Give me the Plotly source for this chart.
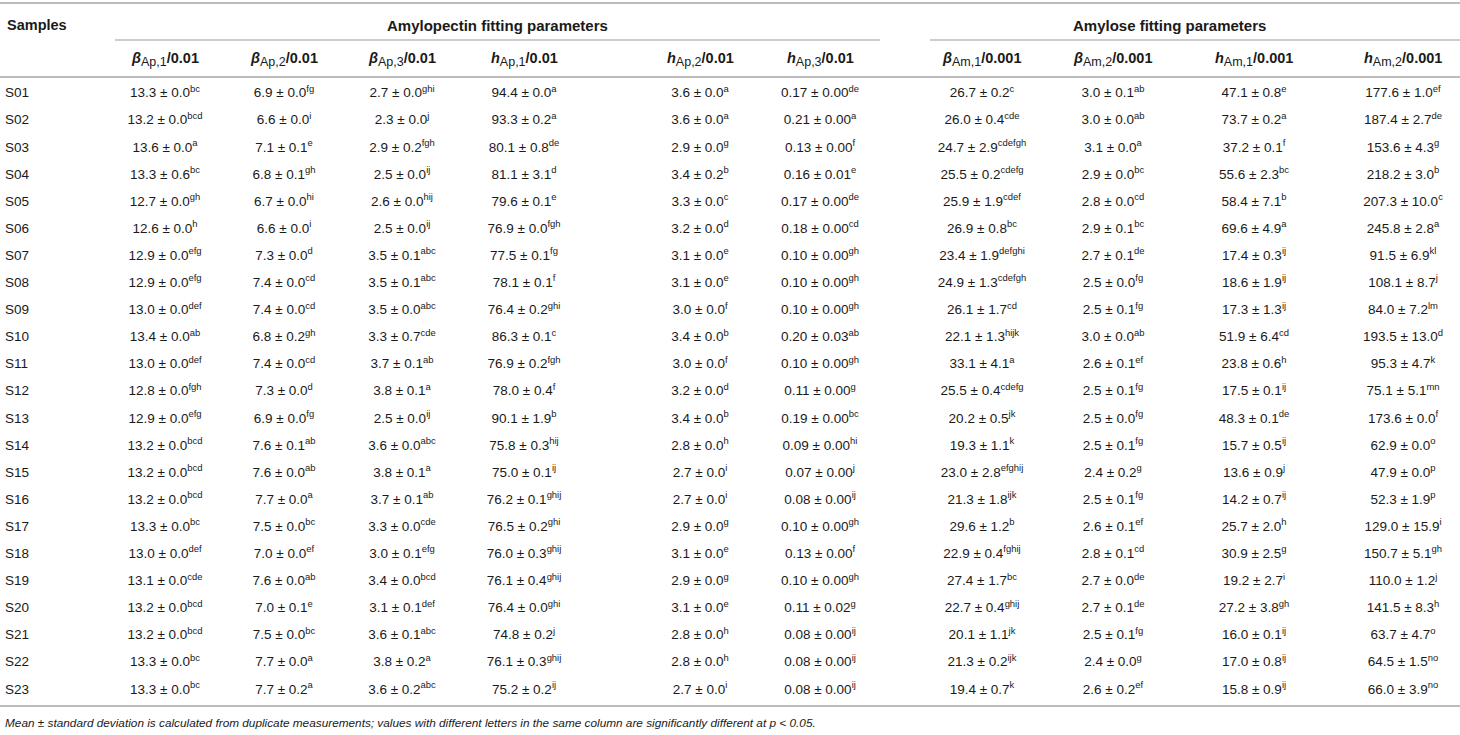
import plotly.graph_objects as go

# ---------------- data ----------------
samples = ["S%02d" % i for i in range(1, 24)]

group_headers = ["Amylopectin fitting parameters", "Amylose fitting parameters"]
header_symbols = ["β", "β", "β", "h", "h", "h", "β", "β", "h", "h"]
header_subs = ["Ap,1", "Ap,2", "Ap,3", "Ap,1", "Ap,2", "Ap,3", "Am,1", "Am,2", "Am,1", "Am,2"]
header_units = ["/0.01", "/0.01", "/0.01", "/0.01", "/0.01", "/0.01", "/0.001", "/0.001", "/0.001", "/0.001"]

bAp1_mean = [13.3, 13.2, 13.6, 13.3, 12.7, 12.6, 12.9, 12.9, 13.0, 13.4, 13.0, 12.8, 12.9, 13.2, 13.2, 13.2, 13.3, 13.0, 13.1, 13.2, 13.2, 13.3, 13.3]
bAp1_sd = [0.0, 0.0, 0.0, 0.6, 0.0, 0.0, 0.0, 0.0, 0.0, 0.0, 0.0, 0.0, 0.0, 0.0, 0.0, 0.0, 0.0, 0.0, 0.0, 0.0, 0.0, 0.0, 0.0]
bAp1_let = ["bc", "bcd", "a", "bc", "gh", "h", "efg", "efg", "def", "ab", "def", "fgh", "efg", "bcd", "bcd", "bcd", "bc", "def", "cde", "bcd", "bcd", "bc", "bc"]

bAp2_mean = [6.9, 6.6, 7.1, 6.8, 6.7, 6.6, 7.3, 7.4, 7.4, 6.8, 7.4, 7.3, 6.9, 7.6, 7.6, 7.7, 7.5, 7.0, 7.6, 7.0, 7.5, 7.7, 7.7]
bAp2_sd = [0.0, 0.0, 0.1, 0.1, 0.0, 0.0, 0.0, 0.0, 0.0, 0.2, 0.0, 0.0, 0.0, 0.1, 0.0, 0.0, 0.0, 0.0, 0.0, 0.1, 0.0, 0.0, 0.2]
bAp2_let = ["fg", "i", "e", "gh", "hi", "i", "d", "cd", "cd", "gh", "cd", "d", "fg", "ab", "ab", "a", "bc", "ef", "ab", "e", "bc", "a", "a"]

bAp3_mean = [2.7, 2.3, 2.9, 2.5, 2.6, 2.5, 3.5, 3.5, 3.5, 3.3, 3.7, 3.8, 2.5, 3.6, 3.8, 3.7, 3.3, 3.0, 3.4, 3.1, 3.6, 3.8, 3.6]
bAp3_sd = [0.0, 0.0, 0.2, 0.0, 0.0, 0.0, 0.1, 0.1, 0.0, 0.7, 0.1, 0.1, 0.0, 0.0, 0.1, 0.1, 0.0, 0.1, 0.0, 0.1, 0.1, 0.2, 0.2]
bAp3_let = ["ghi", "j", "fgh", "ij", "hij", "ij", "abc", "abc", "abc", "cde", "ab", "a", "ij", "abc", "a", "ab", "cde", "efg", "bcd", "def", "abc", "a", "abc"]

hAp1_mean = [94.4, 93.3, 80.1, 81.1, 79.6, 76.9, 77.5, 78.1, 76.4, 86.3, 76.9, 78.0, 90.1, 75.8, 75.0, 76.2, 76.5, 76.0, 76.1, 76.4, 74.8, 76.1, 75.2]
hAp1_sd = [0.0, 0.2, 0.8, 3.1, 0.1, 0.0, 0.1, 0.1, 0.2, 0.1, 0.2, 0.4, 1.9, 0.3, 0.1, 0.1, 0.2, 0.3, 0.4, 0.0, 0.2, 0.3, 0.2]
hAp1_let = ["a", "a", "de", "d", "e", "fgh", "fg", "f", "ghi", "c", "fgh", "f", "b", "hij", "ij", "ghij", "ghi", "ghij", "ghij", "ghi", "j", "ghij", "ij"]

hAp2_mean = [3.6, 3.6, 2.9, 3.4, 3.3, 3.2, 3.1, 3.1, 3.0, 3.4, 3.0, 3.2, 3.4, 2.8, 2.7, 2.7, 2.9, 3.1, 2.9, 3.1, 2.8, 2.8, 2.7]
hAp2_sd = [0.0, 0.0, 0.0, 0.2, 0.0, 0.0, 0.0, 0.0, 0.0, 0.0, 0.0, 0.0, 0.0, 0.0, 0.0, 0.0, 0.0, 0.0, 0.0, 0.0, 0.0, 0.0, 0.0]
hAp2_let = ["a", "a", "g", "b", "c", "d", "e", "e", "f", "b", "f", "d", "b", "h", "i", "i", "g", "e", "g", "e", "h", "h", "i"]

hAp3_mean = [0.17, 0.21, 0.13, 0.16, 0.17, 0.18, 0.10, 0.10, 0.10, 0.20, 0.10, 0.11, 0.19, 0.09, 0.07, 0.08, 0.10, 0.13, 0.10, 0.11, 0.08, 0.08, 0.08]
hAp3_sd = [0.00, 0.00, 0.00, 0.01, 0.00, 0.00, 0.00, 0.00, 0.00, 0.03, 0.00, 0.00, 0.00, 0.00, 0.00, 0.00, 0.00, 0.00, 0.00, 0.02, 0.00, 0.00, 0.00]
hAp3_let = ["de", "a", "f", "e", "de", "cd", "gh", "gh", "gh", "ab", "gh", "g", "bc", "hi", "j", "ij", "gh", "f", "gh", "g", "ij", "ij", "ij"]

bAm1_mean = [26.7, 26.0, 24.7, 25.5, 25.9, 26.9, 23.4, 24.9, 26.1, 22.1, 33.1, 25.5, 20.2, 19.3, 23.0, 21.3, 29.6, 22.9, 27.4, 22.7, 20.1, 21.3, 19.4]
bAm1_sd = [0.2, 0.4, 2.9, 0.2, 1.9, 0.8, 1.9, 1.3, 1.7, 1.3, 4.1, 0.4, 0.5, 1.1, 2.8, 1.8, 1.2, 0.4, 1.7, 0.4, 1.1, 0.2, 0.7]
bAm1_let = ["c", "cde", "cdefgh", "cdefg", "cdef", "bc", "defghi", "cdefgh", "cd", "hijk", "a", "cdefg", "jk", "k", "efghij", "ijk", "b", "fghij", "bc", "ghij", "jk", "ijk", "k"]

bAm2_mean = [3.0, 3.0, 3.1, 2.9, 2.8, 2.9, 2.7, 2.5, 2.5, 3.0, 2.6, 2.5, 2.5, 2.5, 2.4, 2.5, 2.6, 2.8, 2.7, 2.7, 2.5, 2.4, 2.6]
bAm2_sd = [0.1, 0.0, 0.0, 0.0, 0.0, 0.1, 0.1, 0.0, 0.1, 0.0, 0.1, 0.1, 0.0, 0.1, 0.2, 0.1, 0.1, 0.1, 0.0, 0.1, 0.1, 0.0, 0.2]
bAm2_let = ["ab", "ab", "a", "bc", "cd", "bc", "de", "fg", "fg", "ab", "ef", "fg", "fg", "fg", "g", "fg", "ef", "cd", "de", "de", "fg", "g", "ef"]

hAm1_mean = [47.1, 73.7, 37.2, 55.6, 58.4, 69.6, 17.4, 18.6, 17.3, 51.9, 23.8, 17.5, 48.3, 15.7, 13.6, 14.2, 25.7, 30.9, 19.2, 27.2, 16.0, 17.0, 15.8]
hAm1_sd = [0.8, 0.2, 0.1, 2.3, 7.1, 4.9, 0.3, 1.9, 1.3, 6.4, 0.6, 0.1, 0.1, 0.5, 0.9, 0.7, 2.0, 2.5, 2.7, 3.8, 0.1, 0.8, 0.9]
hAm1_let = ["e", "a", "f", "bc", "b", "a", "ij", "ij", "ij", "cd", "h", "ij", "de", "ij", "j", "ij", "h", "g", "i", "gh", "ij", "ij", "ij"]

hAm2_mean = [177.6, 187.4, 153.6, 218.2, 207.3, 245.8, 91.5, 108.1, 84.0, 193.5, 95.3, 75.1, 173.6, 62.9, 47.9, 52.3, 129.0, 150.7, 110.0, 141.5, 63.7, 64.5, 66.0]
hAm2_sd = [1.0, 2.7, 4.3, 3.0, 10.0, 2.8, 6.9, 8.7, 7.2, 13.0, 4.7, 5.1, 0.0, 0.0, 0.0, 1.9, 15.9, 5.1, 1.2, 8.3, 4.7, 1.5, 3.9]
hAm2_let = ["ef", "de", "g", "b", "c", "a", "kl", "j", "lm", "d", "k", "mn", "f", "o", "p", "p", "i", "gh", "j", "h", "o", "no", "no"]

footnote = ("Mean ± standard deviation is calculated from duplicate measurements; "
            "values with different letters in the same column are significantly different at p < 0.05.")

columns = [
    (bAp1_mean, bAp1_sd, bAp1_let, 1), (bAp2_mean, bAp2_sd, bAp2_let, 1),
    (bAp3_mean, bAp3_sd, bAp3_let, 1), (hAp1_mean, hAp1_sd, hAp1_let, 1),
    (hAp2_mean, hAp2_sd, hAp2_let, 1), (hAp3_mean, hAp3_sd, hAp3_let, 2),
    (bAm1_mean, bAm1_sd, bAm1_let, 1), (bAm2_mean, bAm2_sd, bAm2_let, 1),
    (hAm1_mean, hAm1_sd, hAm1_let, 1), (hAm2_mean, hAm2_sd, hAm2_let, 1),
]

# ---------------- layout (pixel space) ----------------
W, H = 1460, 735
col_x = [165, 284, 402, 524, 700, 820, 982, 1113, 1254, 1403]
row_y0, row_pitch = 94, 27.1
header_y, group_y = 59, 25
FONT = "Liberation Sans, Arial, sans-serif"
TXT = "#1a1a1a"
RULE = "#bcbcbc"
DATA_SIZE = 13.5
HEAD_SIZE = 14.5

row_y = [row_y0 + i * row_pitch for i in range(len(samples))]

fig = go.Figure()

# sample labels
fig.add_trace(go.Scatter(
    x=[5] * len(samples), y=row_y, mode="text", text=samples,
    textposition="middle right", textfont=dict(family=FONT, size=DATA_SIZE, color=TXT),
    hoverinfo="skip", showlegend=False))

for cx, (means, sds, lets, dec) in zip(col_x, columns):
    fmt = "%%.%df ± %%.%df<sup>%%s</sup>" % (dec, dec)
    txt = [fmt % (m, s, l) for m, s, l in zip(means, sds, lets)]
    fig.add_trace(go.Scatter(
        x=[cx] * len(txt), y=row_y, mode="text", text=txt,
        textposition="middle center", textfont=dict(family=FONT, size=DATA_SIZE, color=TXT),
        hoverinfo="skip", showlegend=False))

annots = []
annots.append(dict(x=5, y=group_y, text="<b>Samples</b>", xanchor="left", yanchor="middle",
                   showarrow=False, font=dict(family=FONT, size=HEAD_SIZE, color=TXT)))
annots.append(dict(x=497, y=group_y, text="<b>%s</b>" % group_headers[0], xanchor="center",
                   yanchor="middle", showarrow=False, font=dict(family=FONT, size=HEAD_SIZE + 0.5, color=TXT)))
annots.append(dict(x=1169, y=group_y, text="<b>%s</b>" % group_headers[1], xanchor="center",
                   yanchor="middle", showarrow=False, font=dict(family=FONT, size=HEAD_SIZE + 0.5, color=TXT)))
for cx, sym, sub, unit in zip(col_x, header_symbols, header_subs, header_units):
    label = ("<b><i>%s</i></b><sub><span style=\"font-size:12.5px\">%s</span></sub><b>%s</b>"
             % (sym, sub, unit))
    annots.append(dict(x=cx, y=header_y, text=label, xanchor="center", yanchor="middle",
                       showarrow=False, font=dict(family=FONT, size=HEAD_SIZE, color=TXT)))
annots.append(dict(x=3, y=723, text="<i>%s</i>" % footnote, xanchor="left", yanchor="middle",
                   showarrow=False, font=dict(family=FONT, size=11.8, color=TXT)))

shapes = []
def hline(x0, x1, y, w=2):
    shapes.append(dict(type="line", xref="x", yref="y", x0=x0, x1=x1, y0=y, y1=y,
                       line=dict(color=RULE, width=w)))
hline(0, W, 3)
hline(115, 880, 40, 1.5)
hline(930, W, 40, 1.5)
hline(0, W, 77)
hline(0, W, 706)

fig.update_layout(
    width=W, height=H, margin=dict(l=0, r=0, t=0, b=0),
    paper_bgcolor="white", plot_bgcolor="white",
    xaxis=dict(range=[0, W], visible=False, fixedrange=True),
    yaxis=dict(range=[H, 0], visible=False, fixedrange=True),
    annotations=annots, shapes=shapes,
)

fig.write_html("out.html", config={"displayModeBar": False},
               post_script="document.body.style.margin='0';document.body.style.overflow='hidden';")
